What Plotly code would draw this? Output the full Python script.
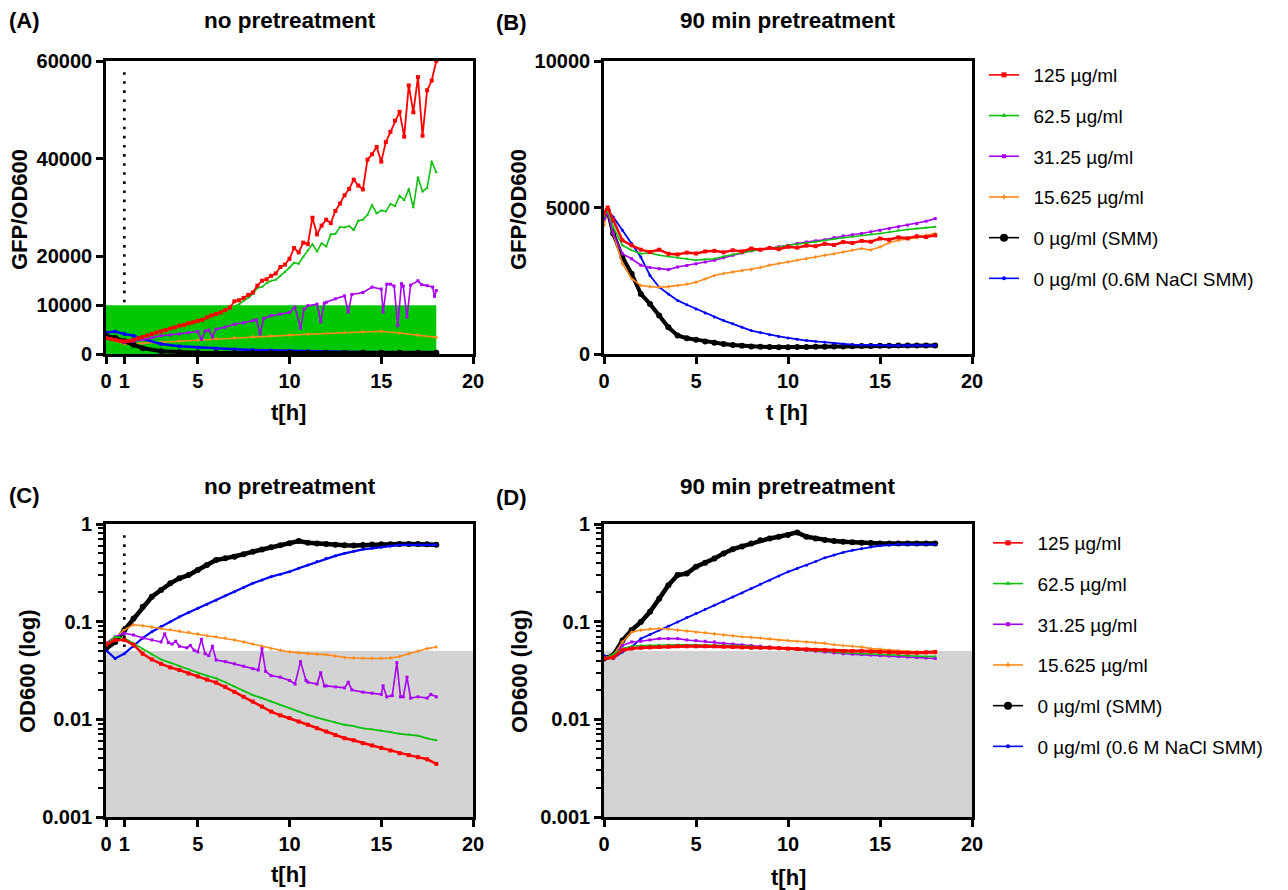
import plotly.graph_objects as go

# ---------------- DATA ----------------
SERIES_NAMES_TOP = ["125 µg/ml", "62.5 µg/ml", "31.25 µg/ml", "15.625 µg/ml",
                    "0 µg/ml (SMM)", "0 µg/ml (0.6M NaCl SMM)"]
SERIES_NAMES_BOTTOM = ["125 µg/ml", "62.5 µg/ml", "31.25 µg/ml", "15.625 µg/ml",
                       "0 µg/ml (SMM)", "0 µg/ml (0.6 M NaCl SMM)"]

# Panel A : GFP/OD600, no pretreatment
A_T_Q = [0, 0.25, 0.5, 0.75, 1, 1.25, 1.5, 1.75, 2, 2.25, 2.5, 2.75, 3, 3.25, 3.5, 3.75, 4, 4.25,
         4.5, 4.75, 5, 5.25, 5.5, 5.75, 6, 6.25, 6.5, 6.75, 7, 7.25, 7.5, 7.75, 8, 8.25, 8.5, 8.75,
         9, 9.25, 9.5, 9.75, 10, 10.25, 10.5, 10.75, 11, 11.25, 11.5, 11.75, 12, 12.25, 12.5, 12.75,
         13, 13.25, 13.5, 13.75, 14, 14.25, 14.5, 14.75, 15, 15.25, 15.5, 15.75, 16, 16.25, 16.5,
         16.75, 17, 17.25, 17.5, 17.75, 18]
A_RED = [3300, 3100, 2900, 2700, 2600, 2650, 2900, 3200, 3500, 3800,
         4100, 4400, 4650, 4900, 5200, 5450, 5800, 5950, 6300, 6500,
         6800, 7000, 7500, 7900, 8200, 8500, 9000, 9500, 10800, 11000,
         11500, 12100, 12600, 14000, 15000, 15300, 16000, 16500, 17800, 18300,
         19500, 21700, 20800, 22800, 22500, 27900, 24500, 26300, 27500, 26800,
         29300, 30800, 32500, 33800, 35700, 34500, 33700, 39800, 40900, 42400,
         39400, 43400, 45500, 47800, 49600, 44500, 55000, 49500, 56700, 44700,
         54000, 56000, 60000]
A_GREEN = [3400, 3150, 3000, 2750, 2600, 2650, 2700, 3050, 3300, 3500,
           3850, 4000, 4300, 4600, 4750, 5100, 5300, 5500, 5850, 6000,
           6300, 6650, 6850, 7250, 7500, 7850, 8350, 8850, 9800, 10200,
           10900, 11500, 12300, 13500, 13700, 14500, 15000, 15200, 16000, 16800,
           17700, 18700, 18500, 19900, 21200, 22500, 21000, 22700, 22000, 24500,
           24600, 26000, 25900, 26200, 25400, 27300, 27500, 28500, 30500, 28800,
           29400, 29200, 30700, 30300, 32400, 31500, 33800, 30000, 36200, 33300,
           34000, 39400, 37200]
A_T_PURPLE = [0, 0.5, 1, 1.5, 2, 2.5, 3, 3.5, 4, 4.5, 5, 5.2, 5.4, 5.6, 5.8, 6, 6.5, 7, 7.5, 8,
              8.2, 8.4, 8.6, 9, 9.5, 10, 10.3, 10.6, 10.8, 11, 11.5, 11.7, 11.9, 12, 12.5, 13,
              13.2, 13.4, 14, 14.5, 15, 15.1, 15.3, 15.5, 15.7, 15.9, 16.1, 16.2, 16.4, 16.6,
              17, 17.2, 17.5, 17.8, 17.9, 18]
A_PURPLE = [3400, 2900, 2400, 2600, 2900, 3300, 3750, 3900, 4100, 4350, 4600, 3000, 4700, 4900,
            3500, 5100, 5500, 6100, 6400, 6800, 7000, 4100, 7300, 7850, 8200, 8500, 9600, 5300,
            9200, 9900, 10200, 6600, 10400, 10600, 11300, 11900, 8600, 12200, 12600, 13700,
            13300, 8600, 14300, 14300, 13900, 5800, 14400, 13900, 7600, 14100, 15000, 14200,
            14000, 13700, 11800, 13000]
A_T_H = [0, 0.5, 1, 1.5, 2, 3, 4, 5, 6, 7, 8, 9, 10, 11, 12, 13, 14, 15, 16, 17, 18]
A_ORANGE = [3400, 2700, 2050, 2100, 2200, 2400, 2600, 2850, 3100, 3300, 3550, 3700, 3900,
            4050, 4200, 4400, 4600, 4650, 4300, 3900, 3400]
A_BLUE = [4400, 4600, 4100, 3750, 3100, 2050, 1600, 1350, 1150, 950, 800, 700, 600, 540,
          480, 440, 400, 370, 340, 320, 300]
A_BLACK = [3750, 3300, 2600, 1900, 1200, 550, 340, 260, 200, 190, 190, 200, 200, 210, 220,
           230, 240, 250, 260, 270, 270]

# Panel B : GFP/OD600, 90 min pretreatment
B_T = [0, 0.2, 0.5, 1, 1.5, 2, 2.5, 3, 3.5, 4, 4.5, 5, 5.5, 6, 6.5, 7, 7.5, 8, 8.5, 9, 9.5,
       10, 10.5, 11, 11.5, 12, 12.5, 13, 13.5, 14, 14.5, 15, 15.5, 16, 16.5, 17, 17.5, 18]
B_RED = [4800, 5000, 4570, 3880, 3710, 3560, 3480, 3560, 3420, 3400,
         3460, 3430, 3500, 3520, 3470, 3540, 3500, 3600, 3560, 3620,
         3580, 3660, 3630, 3700, 3680, 3760, 3720, 3820, 3790, 3860,
         3830, 3940, 3900, 3980, 3950, 4020, 3990, 4050]
B_GREEN = [4700, 4900, 4340, 3710, 3540, 3420, 3450, 3370, 3330, 3290,
           3250, 3200, 3230, 3250, 3330, 3400, 3450, 3520, 3560, 3600,
           3650, 3710, 3740, 3790, 3830, 3880, 3930, 3970, 4000, 4050,
           4080, 4110, 4160, 4220, 4250, 4280, 4320, 4340]
B_PURPLE = [4600, 4800, 4110, 3420, 3250, 3030, 2950, 2910, 2880, 2970,
            3020, 3080, 3140, 3200, 3290, 3370, 3450, 3520, 3560, 3600,
            3660, 3710, 3770, 3820, 3860, 3900, 3970, 4030, 4070, 4110,
            4170, 4220, 4280, 4340, 4400, 4450, 4530, 4620]
B_ORANGE = [4400, 4900, 4110, 3080, 2570, 2340, 2300, 2280, 2300, 2340,
            2380, 2450, 2560, 2680, 2750, 2800, 2840, 2880, 2950, 3030,
            3090, 3140, 3200, 3250, 3310, 3370, 3420, 3480, 3540, 3600,
            3550, 3650, 3800, 3880, 3930, 3970, 4050, 4110]
B_BLUE = [4700, 4900, 4680, 4220, 3770, 3310, 2680, 2280, 2050, 1830,
          1680, 1540, 1400, 1260, 1140, 1030, 910, 800, 730, 660,
          600, 550, 500, 460, 430, 400, 370, 340, 320, 310,
          300, 290, 290, 290, 290, 290, 290, 290]
B_BLACK = [4700, 4900, 4110, 3310, 2740, 2050, 1710, 1310, 910, 630,
           540, 490, 430, 380, 340, 310, 280, 260, 245, 235,
           230, 230, 235, 240, 245, 250, 255, 260, 265, 270,
           275, 280, 285, 290, 290, 290, 290, 290]

# Panel C : OD600, no pretreatment
C_T = [0, 0.5, 1, 1.5, 2, 2.5, 3, 3.5, 4, 4.5, 5, 5.5, 6, 6.5, 7, 7.5, 8, 8.5, 9, 9.5, 10,
       10.5, 11, 11.5, 12, 12.5, 13, 13.5, 14, 14.5, 15, 15.5, 16, 16.5, 17, 17.5, 18]
C_RED = [0.058, 0.065, 0.065, 0.058, 0.047, 0.041, 0.037, 0.034, 0.032, 0.0295,
         0.0275, 0.0255, 0.0238, 0.0215, 0.0191, 0.017, 0.0152, 0.0135, 0.0120, 0.011,
         0.0103, 0.0095, 0.0088, 0.0081, 0.0075, 0.0069, 0.0064, 0.0061, 0.0057, 0.0054,
         0.0051, 0.0048, 0.0045, 0.0043, 0.0041, 0.0039, 0.0035]
C_GREEN = [0.058, 0.070, 0.068, 0.060, 0.052, 0.046, 0.041, 0.038, 0.035, 0.0325,
           0.030, 0.028, 0.0263, 0.024, 0.0217, 0.0195, 0.0177, 0.0165, 0.0152, 0.014,
           0.0130, 0.012, 0.0111, 0.0104, 0.0098, 0.0093, 0.0088, 0.0085, 0.0081, 0.0079,
           0.0077, 0.0074, 0.0071, 0.0070, 0.0068, 0.0064, 0.0061]
C_T_PURPLE = [0, 0.5, 1, 1.5, 2, 2.5, 3, 3.2, 3.4, 3.6, 3.8, 4, 4.4, 4.6, 4.8, 5, 5.2, 5.4,
              5.6, 5.8, 6, 6.5, 7, 7.5, 8, 8.3, 8.5, 8.7, 9, 9.5, 10, 10.3, 10.6, 10.9, 11,
              11.5, 11.7, 11.9, 12, 12.5, 13, 13.2, 13.4, 14, 14.5, 15, 15.1, 15.3, 15.6,
              15.85, 16.05, 16.2, 16.4, 16.6, 17, 17.5, 17.7, 18]
C_PURPLE = [0.060, 0.070, 0.076, 0.073, 0.068, 0.065, 0.062, 0.075, 0.061, 0.059, 0.063,
            0.056, 0.054, 0.057, 0.051, 0.049, 0.066, 0.047, 0.045, 0.056, 0.0405, 0.039,
            0.037, 0.035, 0.033, 0.032, 0.053, 0.031, 0.028, 0.027, 0.025, 0.023, 0.039,
            0.025, 0.024, 0.023, 0.030, 0.022, 0.022, 0.0215, 0.021, 0.024, 0.020, 0.019,
            0.0185, 0.018, 0.022, 0.017, 0.0175, 0.038, 0.017, 0.017, 0.027, 0.0165, 0.017,
            0.0165, 0.018, 0.017]
C_ORANGE = [0.061, 0.068, 0.083, 0.093, 0.091, 0.088, 0.085, 0.083, 0.080, 0.078,
            0.075, 0.072, 0.070, 0.068, 0.065, 0.062, 0.059, 0.056, 0.053, 0.051,
            0.049, 0.048, 0.047, 0.0465, 0.046, 0.0445, 0.043, 0.0425, 0.042, 0.042,
            0.042, 0.0425, 0.044, 0.047, 0.050, 0.053, 0.055]
C_BLACK = [0.053, 0.062, 0.082, 0.108, 0.142, 0.180, 0.211, 0.247, 0.278, 0.300,
           0.338, 0.380, 0.428, 0.445, 0.463, 0.490, 0.521, 0.548, 0.577, 0.605,
           0.634, 0.670, 0.644, 0.632, 0.624, 0.612, 0.605, 0.604, 0.610, 0.615,
           0.619, 0.622, 0.624, 0.624, 0.624, 0.620, 0.614]
C_BLUE = [0.051, 0.042, 0.047, 0.056, 0.068, 0.079, 0.089, 0.100, 0.112, 0.124,
          0.137, 0.151, 0.166, 0.184, 0.203, 0.224, 0.247, 0.267, 0.289, 0.306,
          0.325, 0.352, 0.380, 0.412, 0.445, 0.472, 0.501, 0.525, 0.550, 0.563,
          0.577, 0.594, 0.610, 0.612, 0.612, 0.612, 0.612]

# Panel D : OD600, 90 min pretreatment
D_T = C_T
D_RED = [0.042, 0.043, 0.051, 0.053, 0.054, 0.0545, 0.055, 0.0555, 0.056, 0.056,
         0.056, 0.056, 0.056, 0.0555, 0.055, 0.0545, 0.054, 0.054, 0.054, 0.0535,
         0.053, 0.0525, 0.052, 0.0515, 0.051, 0.0505, 0.050, 0.050, 0.050, 0.0495,
         0.049, 0.0485, 0.048, 0.048, 0.048, 0.0485, 0.049]
D_GREEN = [0.042, 0.046, 0.053, 0.056, 0.057, 0.0575, 0.058, 0.058, 0.058, 0.058,
           0.058, 0.058, 0.058, 0.0575, 0.057, 0.0565, 0.056, 0.055, 0.054, 0.053,
           0.052, 0.0515, 0.051, 0.0505, 0.050, 0.049, 0.048, 0.0475, 0.047, 0.0465,
           0.046, 0.0455, 0.045, 0.0445, 0.044, 0.044, 0.044]
D_PURPLE = [0.042, 0.043, 0.057, 0.062, 0.063, 0.065, 0.067, 0.067, 0.067, 0.065,
            0.064, 0.063, 0.062, 0.060, 0.059, 0.058, 0.057, 0.056, 0.055, 0.054,
            0.053, 0.052, 0.051, 0.050, 0.049, 0.048, 0.047, 0.0465, 0.046, 0.0455,
            0.045, 0.0445, 0.044, 0.0435, 0.043, 0.0425, 0.042]
D_ORANGE = [0.042, 0.045, 0.062, 0.078, 0.082, 0.084, 0.085, 0.084, 0.082, 0.080,
            0.078, 0.077, 0.075, 0.073, 0.072, 0.070, 0.069, 0.068, 0.067, 0.065,
            0.064, 0.063, 0.062, 0.061, 0.060, 0.058, 0.057, 0.056, 0.055, 0.053,
            0.052, 0.051, 0.050, 0.0495, 0.049, 0.0485, 0.048]
D_BLACK = [0.042, 0.045, 0.064, 0.082, 0.099, 0.126, 0.172, 0.236, 0.300, 0.311,
           0.365, 0.400, 0.444, 0.500, 0.553, 0.590, 0.633, 0.680, 0.712, 0.740,
           0.771, 0.820, 0.741, 0.710, 0.685, 0.668, 0.659, 0.650, 0.643, 0.638,
           0.633, 0.633, 0.633, 0.633, 0.633, 0.633, 0.633]
D_BLUE = [0.045, 0.042, 0.049, 0.055, 0.067, 0.074, 0.082, 0.090, 0.099, 0.110,
          0.121, 0.134, 0.147, 0.162, 0.179, 0.197, 0.218, 0.241, 0.266, 0.294,
          0.324, 0.351, 0.379, 0.413, 0.451, 0.481, 0.512, 0.537, 0.562, 0.581,
          0.599, 0.609, 0.618, 0.618, 0.618, 0.618, 0.618]

# thresholds / reference lines
A_GREEN_BAND = (0, 18, 0, 10000)
GREY_BAND = (0.001, 0.05)
INDUCTION_T = 1

# ---------------- STYLE ----------------
FONT = "Arial, Liberation Sans, sans-serif"
COLORS = ["#ff0000", "#10c010", "#a800f0", "#ff8a1a", "#000000", "#0000ff"]
SYMBOLS = ["square", "triangle-up", "square", "cross", "circle", "circle"]
LEG_SIZES = [5, 5, 4, 4, 8, 4]
W, H = 1288, 890


def px(x):
    return x / W


def py(y):
    return 1 - y / H


fig = go.Figure()


def add_line(xa, ya, t, v, idx, width=1.6, msize=3):
    fig.add_trace(go.Scatter(
        x=t, y=v, xaxis=xa, yaxis=ya, mode="lines+markers", showlegend=False,
        line=dict(color=COLORS[idx], width=width),
        marker=dict(symbol=SYMBOLS[idx], size=msize, color=COLORS[idx]),
        hoverinfo="skip"))


# Panel A
add_line("x", "y", A_T_H, A_ORANGE, 3)
add_line("x", "y", A_T_H, A_BLUE, 5, width=2.5, msize=4)
add_line("x", "y", A_T_H, A_BLACK, 4, width=4, msize=6)
add_line("x", "y", A_T_PURPLE, A_PURPLE, 2)
add_line("x", "y", A_T_Q, A_GREEN, 1, width=1.6, msize=3)
add_line("x", "y", A_T_Q, A_RED, 0, width=1.8, msize=4)

# Panel B
add_line("x2", "y2", B_T, B_BLACK, 4, width=4, msize=6)
add_line("x2", "y2", B_T, B_BLUE, 5, width=1.8)
add_line("x2", "y2", B_T, B_ORANGE, 3)
add_line("x2", "y2", B_T, B_PURPLE, 2)
add_line("x2", "y2", B_T, B_GREEN, 1)
add_line("x2", "y2", B_T, B_RED, 0, width=2.5, msize=4)

# Panel C
add_line("x3", "y3", C_T, C_BLACK, 4, width=4.5, msize=6)
add_line("x3", "y3", C_T, C_BLUE, 5, width=2.2)
add_line("x3", "y3", C_T, C_ORANGE, 3)
add_line("x3", "y3", C_T_PURPLE, C_PURPLE, 2)
add_line("x3", "y3", C_T, C_GREEN, 1, width=1.8)
add_line("x3", "y3", C_T, C_RED, 0, width=2.5, msize=4)

# Panel D
add_line("x4", "y4", D_T, D_BLACK, 4, width=4.5, msize=6)
add_line("x4", "y4", D_T, D_BLUE, 5, width=1.8)
add_line("x4", "y4", D_T, D_ORANGE, 3)
add_line("x4", "y4", D_T, D_PURPLE, 2)
add_line("x4", "y4", D_T, D_GREEN, 1)
add_line("x4", "y4", D_T, D_RED, 0, width=3, msize=4)

# legend entries
for leg, names, xa, ya in (("legend", SERIES_NAMES_TOP, "x", "y"),
                           ("legend2", SERIES_NAMES_BOTTOM, "x3", "y3")):
    for i, name in enumerate(names):
        fig.add_trace(go.Scatter(
            x=[None], y=[None], xaxis=xa, yaxis=ya, mode="lines+markers",
            name="\u2002" + name,
            legend=leg, legendgroup=f"{leg}{i}",
            line=dict(color=COLORS[i], width=1.6),
            marker=dict(symbol=SYMBOLS[i], size=LEG_SIZES[i], color=COLORS[i])))

# ---------------- AXES ----------------
tickfont = dict(family=FONT, size=20, color="black", weight="bold")
common = dict(showline=True, linecolor="black", linewidth=2.6, mirror=True,
              ticks="outside", ticklen=7, tickwidth=2.6, tickcolor="black",
              showgrid=False, zeroline=False, tickfont=tickfont, automargin=False)

XA = [106, 473]
XB = [604, 972]
YAB = [61, 354]
YCD = [524, 817]

fig.update_layout(
    xaxis=dict(domain=[px(XA[0]), px(XA[1])], range=[0, 20], anchor="y",
               tickvals=[0, 1, 5, 10, 15, 20], **common),
    yaxis=dict(domain=[py(YAB[1]), py(YAB[0])], range=[0, 60000], anchor="x",
               tickvals=[0, 10000, 20000, 40000, 60000],
               ticktext=["0", "10000", "20000", "40000", "60000"], **common),
    xaxis2=dict(domain=[px(XB[0]), px(XB[1])], range=[0, 20], anchor="y2",
                tickvals=[0, 5, 10, 15, 20], **common),
    yaxis2=dict(domain=[py(YAB[1]), py(YAB[0])], range=[0, 10000], anchor="x2",
                tickvals=[0, 5000, 10000], ticktext=["0", "5000", "10000"], **common),
    xaxis3=dict(domain=[px(XA[0]), px(XA[1])], range=[0, 20], anchor="y3",
                tickvals=[0, 1, 5, 10, 15, 20], **common),
    xaxis4=dict(domain=[px(XB[0]), px(XB[1])], range=[0, 20], anchor="y4",
                tickvals=[0, 5, 10, 15, 20], **common),
)

minor_vals = [m * 10 ** e for e in (-3, -2, -1) for m in range(2, 10)]
for name, xa in (("yaxis3", "x3"), ("yaxis4", "x4")):
    fig.update_layout(**{name: dict(
        domain=[py(YCD[1]), py(YCD[0])], type="log", range=[-3, 0], anchor=xa,
        tickvals=[0.001, 0.01, 0.1, 1], ticktext=["0.001", "0.01", "0.1", "1"],
        minor=dict(tickvals=minor_vals, ticks="outside", ticklen=5, tickwidth=1.8,
                   tickcolor="black", showgrid=False),
        **common)})

# ---------------- SHAPES ----------------
x0, x1, y0, y1 = A_GREEN_BAND
dotted = dict(color="black", width=2.6, dash="2.6px,6.5px")
shapes = [
    dict(type="rect", xref="x", yref="y", x0=x0, x1=x1, y0=y0, y1=y1,
         fillcolor="#00c800", line=dict(width=0), layer="below"),
    dict(type="line", xref="x", yref="y", x0=INDUCTION_T, x1=INDUCTION_T, y0=10600, y1=59000,
         line=dotted),
    dict(type="rect", xref="x3", yref="y3", x0=0, x1=20, y0=GREY_BAND[0], y1=GREY_BAND[1],
         fillcolor="#d3d3d3", line=dict(width=0), layer="below"),
    dict(type="line", xref="x3", yref="y3", x0=INDUCTION_T, x1=INDUCTION_T,
         y0=0.055, y1=0.85, line=dotted),
    dict(type="rect", xref="x4", yref="y4", x0=0, x1=20, y0=GREY_BAND[0], y1=GREY_BAND[1],
         fillcolor="#d3d3d3", line=dict(width=0), layer="below"),
]

# ---------------- TEXT ----------------
title_font = dict(family=FONT, size=22.5, color="black", weight="bold")
label_font = dict(family=FONT, size=22, color="black", weight="bold")
axis_font = dict(family=FONT, size=22, color="black", weight="bold")


def ann(text, x, y, font, angle=0):
    return dict(text=text, x=px(x), y=py(y), xref="paper", yref="paper",
                showarrow=False, font=font, textangle=angle,
                xanchor="center", yanchor="middle")


annotations = [
    ann("(A)", 25, 21, label_font), ann("no pretreatment", 290, 21, title_font),
    ann("(B)", 512, 23, label_font), ann("90 min pretreatment", 788, 21, title_font),
    ann("(C)", 25, 495, label_font), ann("no pretreatment", 290, 486, title_font),
    ann("(D)", 512, 497, label_font), ann("90 min pretreatment", 788, 486, title_font),
    ann("GFP/OD600", 19, 210, axis_font, -90), ann("t[h]", 288, 412, axis_font),
    ann("GFP/OD600", 518, 210, axis_font, -90), ann("t [h]", 787, 412, axis_font),
    ann("OD600 (log)", 27, 672, axis_font, -90), ann("t[h]", 288, 874, axis_font),
    ann("OD600 (log)", 519, 672, axis_font, -90), ann("t[h]", 788, 877, axis_font),
]

legfont = dict(family=FONT, size=19, color="black")
fig.update_layout(
    width=W, height=H, margin=dict(l=0, r=0, t=0, b=0),
    paper_bgcolor="white", plot_bgcolor="white",
    shapes=shapes, annotations=annotations,
    legend=dict(x=px(984), y=py(56), xanchor="left", yanchor="top", font=legfont,
                traceorder="grouped", tracegroupgap=13,
                bgcolor="rgba(0,0,0,0)"),
    legend2=dict(x=px(988), y=py(524), xanchor="left", yanchor="top", font=legfont,
                 traceorder="grouped", tracegroupgap=13,
                 bgcolor="rgba(0,0,0,0)"),
)

fig.write_html("out.html", config={"displayModeBar": False},
               post_script="document.body.style.margin='0px';document.body.style.padding='0px';")
